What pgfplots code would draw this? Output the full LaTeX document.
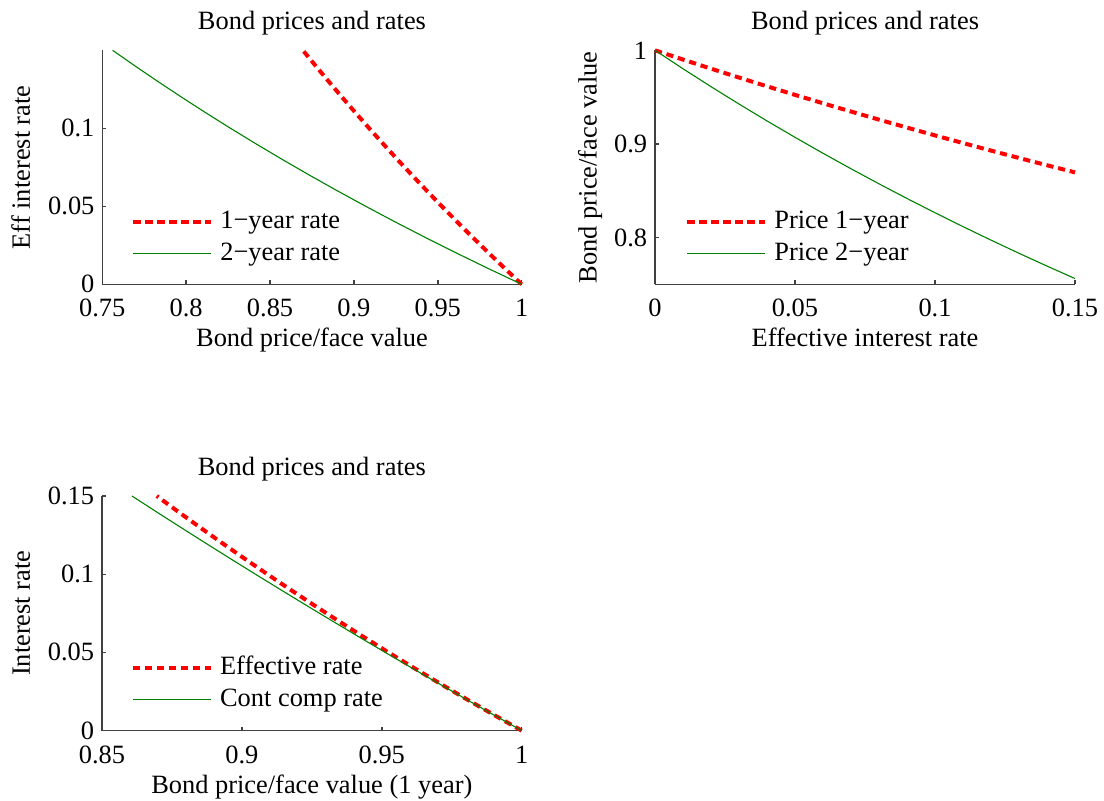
\documentclass[border=0pt]{standalone}
\usepackage{fontspec}
\setmainfont{Liberation Serif}
\usepackage{pgfplots}
\usepackage{pgfplotstable}
\pgfplotsset{compat=1.18}
\definecolor{mgreen}{rgb}{0,0.5,0}
\newcommand\ff{\fontsize{13.2pt}{16pt}\selectfont}
% r, price 1-year, price 2-year, price cont. comp.
\pgfplotstableread{
r     pa       pb       pc
0.00  1.000000 1.000000 1.000000
0.01  0.990099 0.980296 0.990050
0.02  0.980392 0.961169 0.980199
0.03  0.970874 0.942596 0.970446
0.04  0.961538 0.924556 0.960789
0.05  0.952381 0.907029 0.951229
0.06  0.943396 0.889996 0.941765
0.07  0.934579 0.873439 0.932394
0.08  0.925926 0.857339 0.923116
0.09  0.917431 0.841680 0.913931
0.10  0.909091 0.826446 0.904837
0.11  0.900901 0.811622 0.895834
0.12  0.892857 0.797194 0.886920
0.13  0.884956 0.783147 0.878095
0.14  0.877193 0.769468 0.869358
0.15  0.869565 0.756144 0.860708
}\bonds
\pgfplotsset{
  myax/.style={
    scale only axis,
    anchor=south west,
    axis x line*=bottom, axis y line*=left,
    axis line style={black!75, line width=0.7pt},
    tick style={black!75, line width=0.7pt},
    tick align=inside,
    major tick length=2pt,
    tick label style={font=\ff},
    /pgf/number format/assume math mode=true,
    /pgf/number format/fixed,
    /pgf/number format/precision=2,
    scaled ticks=false,
    xticklabel style={anchor=base, yshift=-16.2pt},
    yticklabel style={xshift=-0.4pt},
    label style={font=\ff},
    xlabel style={at={(axis description cs:0.5,0)}, anchor=base, yshift=-31.2pt},
    every axis title shift=0pt,
    title style={font=\ff, at={(axis description cs:0.5,1)}, anchor=base, yshift=10.35pt},
    title={Bond prices and rates},
    legend cell align=left,
    legend style={draw=none, fill=none, inner sep=0pt, anchor=north west,
      font=\ff, row sep=2.35pt, column sep=3.5pt,
      nodes={inner sep=0pt, text height=10pt, text depth=3.5pt}},
    legend image code/.code={\draw[##1] (0pt,0pt) -- (39pt,0pt);},
    clip=false,
  },
  redl/.style={red, line width=2pt, dash pattern=on 3.6pt off 2.4pt},
  grnl/.style={mgreen, line width=0.55pt},
}
\begin{document}
\begin{tikzpicture}
\useasboundingbox (0,0) rectangle (552pt,400pt);
% plot 1
\begin{axis}[myax, at={(51.15pt,257.85pt)}, width=209.7pt, height=117pt,
  xmin=0.75, xmax=1, ymin=0, ymax=0.15,
  xtick={0.75,0.8,0.85,0.9,0.95,1}, ytick={0,0.05,0.1},
  xlabel={Bond price/face value}, ylabel={Eff interest rate},
  ylabel style={at={(axis description cs:-0.1724,0.5)}, anchor=base},
  legend style={at={(axis description cs:0.0684,0.326)}}]
\addplot[redl] table[x=pa, y=r] {\bonds};
\addlegendentry{1−year rate}
\addplot[grnl] table[x=pb, y=r] {\bonds};
\addlegendentry{2−year rate}
\end{axis}
% plot 2
\begin{axis}[myax, at={(327.5pt,257.85pt)}, width=210pt, height=117pt,
  xmin=0, xmax=0.15, ymin=0.75, ymax=1,
  xtick={0,0.05,0.1,0.15}, ytick={0.8,0.9,1},
  xlabel={Effective interest rate}, ylabel={Bond price/face value},
  ylabel style={at={(axis description cs:-0.139,0.5)}, anchor=base},
  legend style={at={(axis description cs:0.0714,0.326)}}]
\addplot[redl] table[x=r, y=pa] {\bonds};
\addlegendentry{Price 1−year}
\addplot[grnl] table[x=r, y=pb] {\bonds};
\addlegendentry{Price 2−year}
\end{axis}
% plot 3
\begin{axis}[myax, at={(51pt,34.7pt)}, width=209.85pt, height=117.3pt,
  xmin=0.85, xmax=1, ymin=0, ymax=0.15,
  xtick={0.85,0.9,0.95,1}, ytick={0,0.05,0.1,0.15},
  xlabel={Bond price/face value (1 year)}, ylabel={Interest rate},
  ylabel style={at={(axis description cs:-0.172,0.5)}, anchor=base},
  legend style={at={(axis description cs:0.0684,0.326)}}]
\addplot[redl] table[x=pa, y=r] {\bonds};
\addlegendentry{Effective rate}
\addplot[grnl] table[x=pc, y=r] {\bonds};
\addlegendentry{Cont comp rate}
\end{axis}
\end{tikzpicture}
\end{document}
